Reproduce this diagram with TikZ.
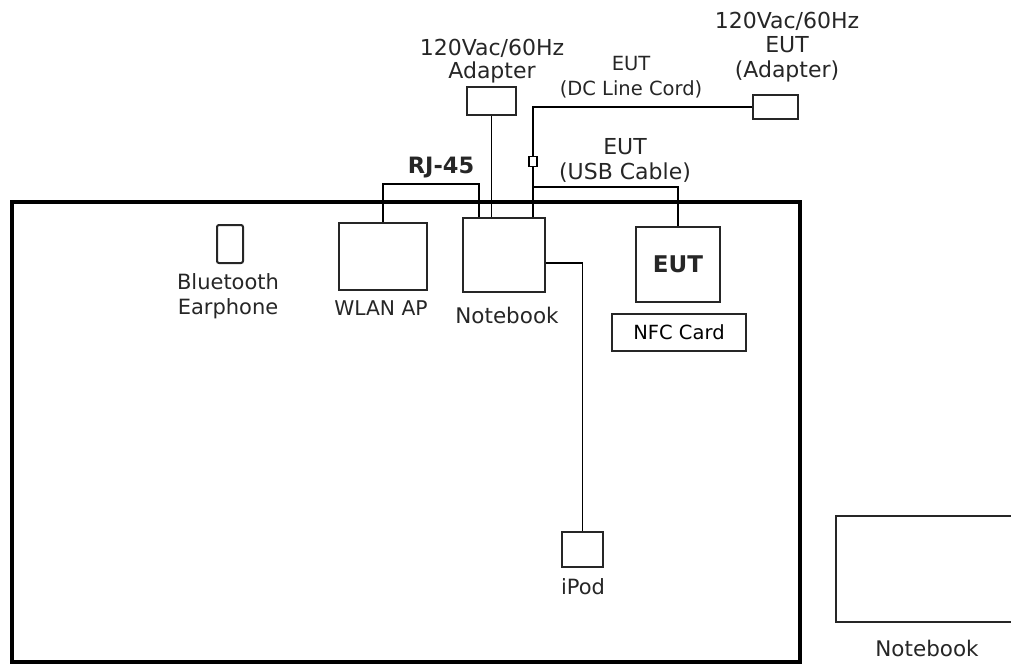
\documentclass[tikz,border=0pt]{standalone}
\usepackage{fontspec}
\setmainfont{DejaVu Sans}
\usepackage{tikz}
\usetikzlibrary{positioning}
\tikzstyle{device} = [rectangle, draw=black!85, line width=2pt, inner sep=0pt]
\tikzstyle{lbl} = [align=center, inner sep=0pt, text=black!85, font=\fontsize{21.5}{24.5}\selectfont]
\tikzstyle{small} = [align=center, inner sep=0pt, text=black!85, font=\fontsize{19.5}{24.5}\selectfont]
\tikzstyle{cable} = [line width=1.7pt, black]

\begin{document}
\begin{tikzpicture}[x=1pt, y=-1pt]
        \useasboundingbox (0,0) rectangle (1011,666);
        % Table
        \draw [line width=4.2pt, line join=miter] (12,202) rectangle (800,662);

        % Nodes
        \node (earph) [device, minimum width=26pt, minimum height=38pt, rounded corners=2pt] at (230,244) {};
        \node (earphlbl) [lbl, font=\fontsize{21}{24.5}\selectfont] at (228,296) {Bluetooth\\Earphone};
        \node (wlan) [device, minimum width=88pt, minimum height=67pt] at (383,256.5) {};
        \node (wlanlbl) [small, font=\fontsize{20.3}{24}\selectfont] at (381,308) {WLAN AP};
        \node (nb) [device, minimum width=82pt, minimum height=74pt] at (504,255) {};
        \node (nblbl) [lbl] at (507,315) {Notebook};
        \node (adapter) [device, minimum width=49pt, minimum height=28pt] at (491.5,101) {};
        \node (adapterlbl) [lbl, font=\fontsize{22}{22.5}\selectfont] at (492,61) {120Vac/60Hz\\Adapter};
        \node (rj) [lbl, font=\fontsize{22.5}{24}\selectfont\bfseries] at (441,168) {RJ-45};
        \node (eutad) [device, minimum width=45pt, minimum height=24pt] at (775.5,107) {};
        \node (eutadlbl) [lbl, font=\fontsize{22}{24.5}\selectfont] at (787,47) {120Vac/60Hz\\EUT\\(Adapter)};
        \node (dclbl) [small] at (631,77) {EUT\\(DC Line Cord)};
        \node (usblbl) [lbl, font=\fontsize{22}{25}\selectfont] at (625,160) {EUT\\(USB Cable)};
        \node (ferrite) [rectangle, draw, line width=1.4pt, minimum width=8pt, minimum height=10pt, inner sep=0pt] at (533,161.5) {};
        \node (eut) [device, minimum width=84pt, minimum height=75pt, font=\fontsize{23}{24}\selectfont\bfseries, text=black!85] at (678,264.5) {EUT};
        \node (nfc) [device, line width=1.7pt, minimum width=134pt, minimum height=37pt, font=\fontsize{19.5}{24}\selectfont] at (679,332.5) {NFC Card};
        \node (ipod) [device, minimum width=41pt, minimum height=35pt] at (582.5,549.5) {};
        \node (ipodlbl) [lbl, font=\fontsize{21}{24}\selectfont] at (583,587) {iPod};
        \node (nbtwo) [lbl] at (927,648) {Notebook};
        \coordinate (usbsplit) at (533,187);

        % Second notebook, cut by the page edge
        \draw [device] (1013,516) -- (836,516) -- (836,622) -- (1013,622);

        % Cables
        \draw [cable] (wlan.north) -- ++(0,-38) -| ([xshift=-25pt]nb.north);
        \draw [cable] (adapter.south) -- (adapter.south |- nb.north);
        \draw [cable] ([xshift=29pt]nb.north) -- (ferrite.south);
        \draw [cable] (ferrite.north) |- (eutad.west);
        \draw [cable] (usbsplit) -| (eut.north);
        \draw [cable] ([yshift=-8pt]nb.east) -| (ipod.north);
    \end{tikzpicture}
\end{document}
